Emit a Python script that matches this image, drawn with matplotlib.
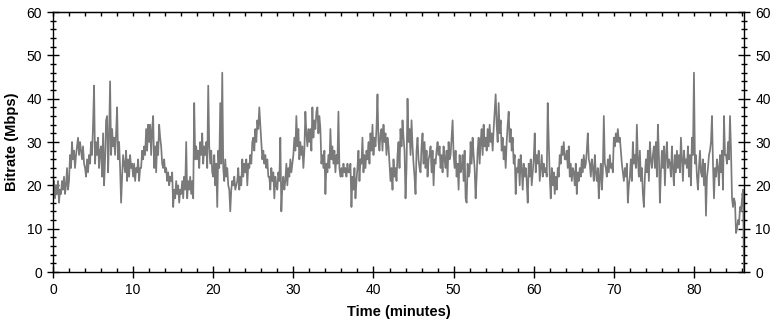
import numpy as np
import matplotlib
matplotlib.use("Agg")
import matplotlib.pyplot as plt
from matplotlib.ticker import MultipleLocator

plt.rcParams['font.family'] = ['Liberation Sans', 'DejaVu Sans']

# Bitrate samples (Mbps), one every 1/8 minute
bitrate = [
    19, 21, 17, 20, 18, 21, 16, 19,  18, 21, 19, 22, 18, 20, 24, 19,   # 0-1
    21, 27, 24, 30, 26, 28, 24, 27,  29, 31, 27, 30, 28, 26, 29, 25,   # 2-3
    24, 22, 26, 23, 27, 25, 30, 27,  34, 43, 25, 30, 27, 31, 24, 28,   # 4-5
    29, 22, 32, 20, 26, 35, 36, 23,  31, 44, 27, 33, 29, 31, 27, 32,   # 6-7
    38, 26, 30, 24, 16, 22, 27, 25,  23, 28, 21, 26, 22, 27, 24, 25,   # 8-9
    22, 25, 21, 24, 23, 26, 21, 24,  24, 28, 26, 29, 27, 33, 28, 34,   # 10-11
    30, 34, 27, 33, 36, 24, 29, 23,  30, 27, 34, 31, 29, 25, 24, 26,   # 12-13
    23, 24, 21, 23, 20, 22, 21, 23,  15, 19, 17, 21, 18, 20, 16, 19,   # 14-15
    18, 21, 17, 22, 19, 30, 17, 21,  19, 22, 18, 21, 17, 39, 26, 29,   # 16-17
    26, 28, 24, 30, 27, 32, 25, 29,  27, 30, 24, 43, 29, 25, 28, 23,   # 18-19
    22, 27, 20, 25, 15, 28, 24, 39,  25, 46, 24, 21, 26, 22, 24, 20,   # 20-21
    19, 14, 19, 21, 20, 22, 19, 20,  21, 24, 19, 22, 20, 26, 22, 25,   # 22-23
    23, 26, 20, 25, 24, 27, 25, 30,  31, 28, 33, 30, 35, 33, 38, 34,   # 24-25
    30, 26, 28, 25, 27, 24, 26, 22,  22, 19, 24, 21, 23, 17, 22, 20,   # 26-27
    19, 23, 21, 31, 14, 20, 22, 19,  21, 25, 20, 24, 22, 26, 23, 25,   # 28-29
    27, 31, 28, 36, 29, 33, 26, 30,  27, 29, 24, 28, 37, 32, 29, 33,   # 30-31
    30, 33, 28, 38, 31, 35, 33, 37,  38, 32, 36, 33, 25, 27, 24, 28,   # 32-33
    18, 25, 23, 27, 24, 33, 26, 29,  25, 28, 23, 27, 25, 37, 24, 22,   # 34-35
    24, 22, 25, 23, 24, 22, 25, 23,  23, 25, 15, 22, 19, 24, 17, 21,   # 36-37
    24, 28, 21, 26, 25, 31, 23, 27,  24, 28, 26, 30, 25, 32, 28, 34,   # 38-39
    27, 31, 29, 33, 41, 30, 28, 32,  33, 28, 34, 30, 32, 27, 31, 29,   # 40-41
    25, 21, 24, 19, 26, 22, 24, 21,  27, 30, 24, 33, 29, 35, 31, 28,   # 42-43
    17, 24, 40, 30, 33, 27, 35, 29,  25, 22, 18, 28, 31, 26, 24, 23,   # 44-45
    29, 32, 25, 30, 24, 28, 22, 26,  27, 29, 23, 28, 20, 26, 25, 28,   # 46-47
    30, 27, 29, 24, 27, 23, 29, 26,  24, 28, 22, 30, 26, 27, 31, 35,   # 48-49
    27, 24, 28, 22, 25, 19, 27, 23,  24, 27, 21, 28, 17, 16, 25, 22,   # 50-51
    23, 30, 25, 31, 27, 24, 17, 22,  28, 31, 25, 30, 33, 27, 34, 29,   # 52-53
    31, 28, 33, 29, 34, 30, 32, 28,  33, 37, 41, 34, 30, 39, 32, 35,   # 54-55
    28, 31, 26, 29, 24, 30, 34, 37,  30, 33, 28, 31, 25, 27, 18, 24,   # 56-57
    23, 26, 20, 27, 24, 19, 25, 22,  24, 21, 16, 25, 22, 26, 20, 23,   # 58-59
    26, 32, 23, 27, 25, 28, 21, 24,  27, 22, 25, 23, 24, 22, 39, 30,   # 60-61
    22, 17, 24, 20, 23, 18, 22, 19,  24, 22, 27, 25, 29, 27, 30, 26,   # 62-63
    26, 28, 24, 29, 22, 25, 21, 24,  23, 20, 25, 18, 23, 21, 24, 22,   # 64-65
    26, 23, 27, 24, 25, 28, 32, 26,  25, 22, 26, 24, 21, 27, 23, 21,   # 66-67
    24, 17, 22, 25, 19, 23, 36, 25,  24, 22, 26, 23, 27, 24, 25, 23,   # 68-69
    31, 29, 32, 30, 33, 30, 31, 28,  25, 23, 21, 24, 22, 25, 16, 20,   # 70-71
    22, 26, 21, 30, 25, 27, 24, 34,  26, 22, 28, 21, 24, 18, 15, 22,   # 72-73
    26, 23, 28, 21, 30, 26, 24, 27,  29, 24, 30, 22, 34, 27, 16, 23,   # 74-75
    28, 24, 29, 20, 27, 30, 24, 26,  25, 22, 29, 24, 20, 27, 23, 28,   # 76-77
    24, 27, 23, 31, 26, 21, 28, 25,  26, 24, 29, 22, 27, 20, 31, 27,   # 78-79
    46, 25, 27, 22, 19, 24, 28, 23,  22, 26, 20, 25, 13, 22, 24, 27,   # 80-81
    28, 30, 36, 25, 17, 24, 22, 26,  24, 20, 27, 23, 28, 19, 36, 27,   # 82-83
    27, 25, 30, 26, 36, 28, 17, 15,  17, 16, 9, 10, 12, 11, 15, 14,    # 84-85
    17, 19, 0,                                                          # 86
]
step_min = 0.125
time_min = np.arange(len(bitrate)) * step_min

fig = plt.figure(figsize=(7.76, 3.21), dpi=100)
ax = fig.add_axes([0.0683, 0.1526, 0.8905, 0.81])

ax.plot(time_min, bitrate, color='#7a7a7a', linewidth=1.25)

ax.set_xlim(0, time_min[-1])
ax.set_ylim(0, 60)
ax.xaxis.set_major_locator(MultipleLocator(10))
ax.xaxis.set_minor_locator(MultipleLocator(2))
ax.yaxis.set_major_locator(MultipleLocator(10))
ax.yaxis.set_minor_locator(MultipleLocator(2))

ax.tick_params(axis='x', which='major', direction='inout', length=8, width=1,
               labelsize=10, pad=4)
ax.tick_params(axis='x', which='minor', direction='in', length=3, width=1)
ax.tick_params(axis='y', which='major', direction='inout', length=8, width=1,
               labelsize=10, pad=4, right=True, labelright=True)
ax.tick_params(axis='y', which='minor', direction='inout', length=5, width=1,
               right=True)

top = ax.secondary_xaxis('top')
top.xaxis.set_major_locator(MultipleLocator(10))
top.xaxis.set_minor_locator(MultipleLocator(2))
top.tick_params(which='both', direction='in', length=3, width=1, labeltop=False)

for s in ax.spines.values():
    s.set_linewidth(1)

ax.set_xlabel('Time (minutes)', fontsize=10.5, fontweight='bold', labelpad=6)
ax.set_ylabel('Bitrate (Mbps)', fontsize=10.5, fontweight='bold', labelpad=5)

fig.savefig('out.png', dpi=100)
